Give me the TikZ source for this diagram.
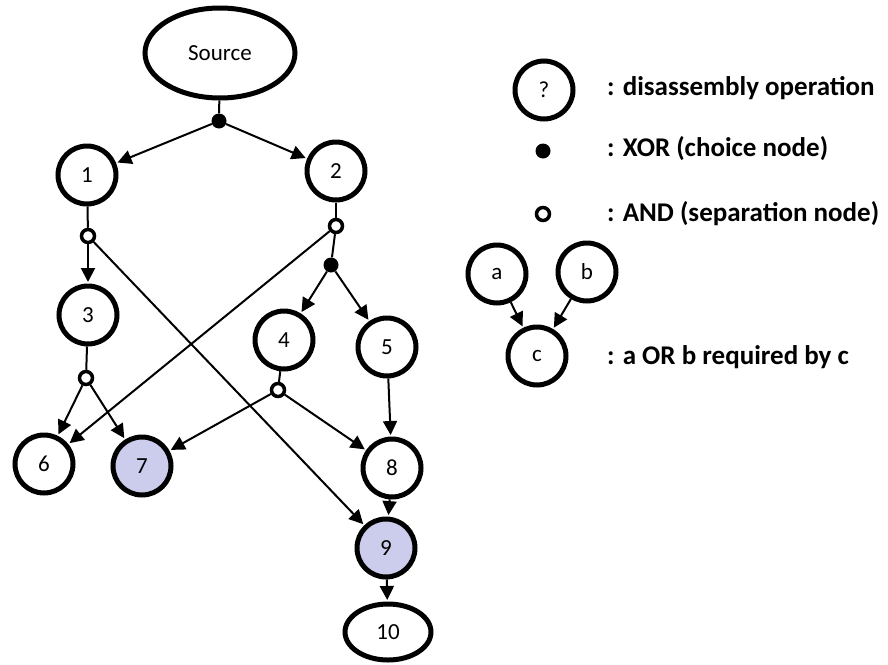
\documentclass[tikz,border=0pt]{standalone}
\usepackage{fontspec}
\setmainfont{Carlito}
\usepackage{tikz}
\usetikzlibrary{positioning,shapes.geometric,arrows.meta}
\definecolor{lavender}{RGB}{204,204,236}
\tikzstyle{op} = [draw, circle, line width=5pt, minimum size=58pt, inner sep=0pt, font=\fontsize{23}{26}\selectfont]
\tikzstyle{oval} = [draw, ellipse, line width=5pt, inner sep=0pt, font=\fontsize{23}{26}\selectfont]
\tikzstyle{xornode} = [circle, fill=black, minimum size=15pt, inner sep=0pt]
\tikzstyle{andnode} = [draw, circle, fill=white, line width=3.5pt, minimum size=13pt, inner sep=0pt]
\tikzstyle{req} = [line width=2pt, -{Triangle[length=14pt,width=14pt]}, shorten >=1.5pt]
\tikzstyle{lnk} = [line width=2pt]
\tikzstyle{legend} = [anchor=west, inner sep=0pt, font=\bfseries\fontsize{27}{31}\selectfont]

\begin{document}
\begin{tikzpicture}[x=1pt, y=-1pt]
			\useasboundingbox (0,0) rectangle (888,664);
			% graph
			\node[oval, minimum width=150pt, minimum height=90pt] (src) at (220,53) {Source};
			\node[xornode] (x0) at (219,121) {};
			\node[op] (n1) at (87,175) {1};
			\node[op] (n2) at (336,171) {2};
			\node[andnode] (a1) at (88,236) {};
			\node[andnode] (a2) at (336,226) {};
			\node[xornode] (x2) at (331,265) {};
			\node[op] (n3) at (88,315) {3};
			\node[op] (n4) at (284,340) {4};
			\node[op] (n5) at (387,347) {5};
			\node[andnode] (a3) at (86,378) {};
			\node[andnode] (a4) at (278,390) {};
			\node[op] (n6) at (44,464) {6};
			\node[op, fill=lavender] (n7) at (142,466) {7};
			\node[op] (n8) at (392,468) {8};
			\node[op, fill=lavender] (n9) at (386,548) {9};
			\node[oval, minimum width=86pt, minimum height=56pt] (n10) at (388,632) {10};
			\draw[lnk] (src) -- (x0);
			\draw[req] (x0) -- (n1);
			\draw[req] (x0) -- (n2);
			\draw[lnk] (n1) -- (a1);
			\draw[req] (a1) -- (n3);
			\draw[req] (a1) -- (n9);
			\draw[lnk] (n2) -- (a2);
			\draw[lnk] (a2) -- (x2);
			\draw[req] (a2) -- (n6);
			\draw[req] (x2) -- (n4);
			\draw[req] (x2) -- (n5);
			\draw[lnk] (n3) -- (a3);
			\draw[req] (a3) -- (n6);
			\draw[req] (a3) -- (n7);
			\draw[lnk] (n4) -- (a4);
			\draw[req] (a4) -- (n7);
			\draw[req] (a4) -- (n8);
			\draw[req] (n5) -- (n8);
			\draw[req] (n8) -- (n9);
			\draw[req] (n9) -- (n10);
			% legend
			\node[op] (qop) at (544,90) {?};
			\node[legend] (lop) at (607,88) {: disassembly operation};
			\node[xornode] (qxor) at (543,151) {};
			\node[legend] (lxor) at (607,149) {: XOR (choice node)};
			\node[andnode] (qand) at (543,214) {};
			\node[legend] (land) at (607,214) {: AND (separation node)};
			\node[op] (qa) at (497,274) {a};
			\node[op] (qb) at (587,272) {b};
			\node[op] (qc) at (537,356) {c};
			\draw[req] (qa) -- (qc);
			\draw[req] (qb) -- (qc);
			\node[legend] (lor) at (607,357) {: a OR b required by c};
		\end{tikzpicture}
\end{document}
